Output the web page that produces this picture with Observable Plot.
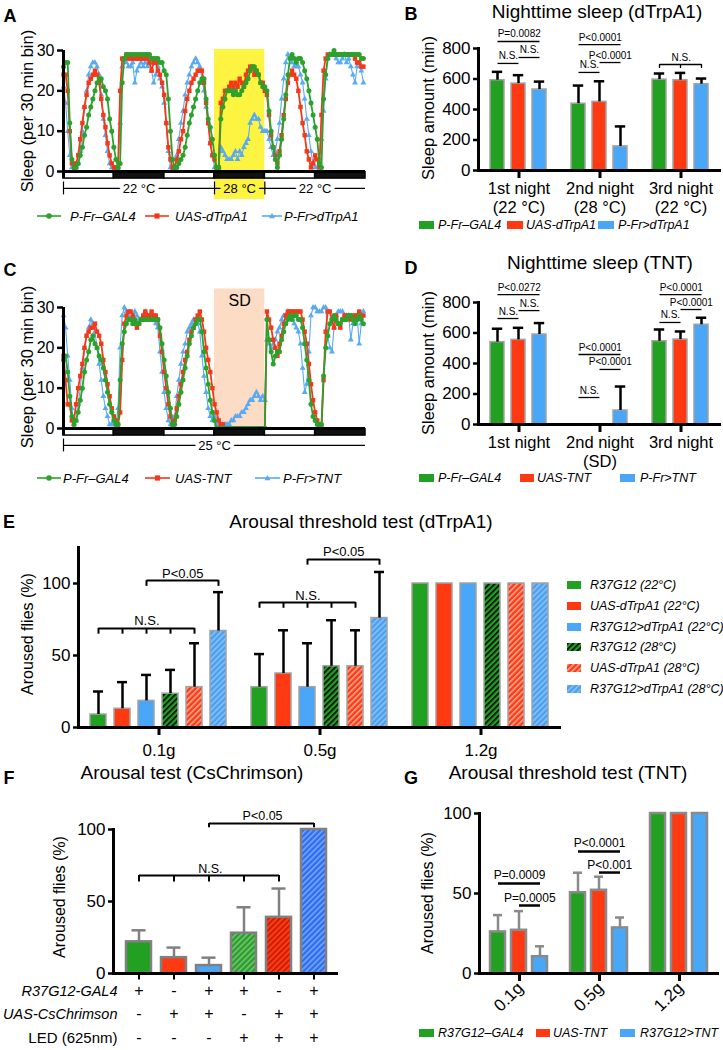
<!DOCTYPE html>
<html><head><meta charset="utf-8">
<script src="https://cdn.jsdelivr.net/npm/d3@7"></script>
<script src="https://cdn.jsdelivr.net/npm/@observablehq/plot@0.6"></script>
<style>
body{margin:0;background:#fff;}
#fig{position:relative;width:723px;height:1050px;overflow:hidden;font-family:"Liberation Sans",Arial,Helvetica,sans-serif;color:#000;background:#fff;}
#fig .abs{position:absolute;white-space:nowrap;line-height:1;}
#fig svg{position:absolute;}
</style></head>
<body>
<svg width="0" height="0" style="position:absolute">
<defs>
<pattern id="hG" patternUnits="userSpaceOnUse" width="4" height="4" patternTransform="rotate(45)"><rect width="4" height="4" fill="#22a022"/><line x1="0.8" y1="0" x2="0.8" y2="4" stroke="#000" stroke-width="1.6"/></pattern>
<pattern id="hR" patternUnits="userSpaceOnUse" width="4" height="4" patternTransform="rotate(45)"><rect width="4" height="4" fill="#ff3a12"/><line x1="0.8" y1="0" x2="0.8" y2="4" stroke="#ffc4b4" stroke-width="1.3"/></pattern>
<pattern id="hB" patternUnits="userSpaceOnUse" width="4" height="4" patternTransform="rotate(45)"><rect width="4" height="4" fill="#4a9ff0"/><line x1="0.8" y1="0" x2="0.8" y2="4" stroke="#9fcdf8" stroke-width="1.2"/></pattern>
<pattern id="fG" patternUnits="userSpaceOnUse" width="4" height="4" patternTransform="rotate(45)"><rect width="4" height="4" fill="#2a9e2a"/><line x1="0.8" y1="0" x2="0.8" y2="4" stroke="#8fd08f" stroke-width="1.2"/></pattern>
<pattern id="fR" patternUnits="userSpaceOnUse" width="4" height="4" patternTransform="rotate(45)"><rect width="4" height="4" fill="#ff3a12"/><line x1="0.8" y1="0" x2="0.8" y2="4" stroke="#a80e00" stroke-width="1.2"/></pattern>
<pattern id="fB" patternUnits="userSpaceOnUse" width="4" height="4" patternTransform="rotate(45)"><rect width="4" height="4" fill="#2d6ef0"/><line x1="0.8" y1="0" x2="0.8" y2="4" stroke="#93b8ff" stroke-width="1.2"/></pattern>
</defs></svg>
<div id="fig"></div>
<script>
// ---------------- DATA ----------------
// Panel A: sleep per 30-min bin over 3 days (144 bins), dTrpA1
const greenA = [26,27,27,12,3,0,1,2,4,6,9,11,14,16,18,20,22,23,23,21,20,18,13,10,
  6,3,1,2,22,28,29,29,29,29,29,29,29,29,29,29,29,29,28,28,28,28,27,27,
  25,24,18,10,3,1,1,2,3,4,6,9,12,14,16,18,20,22,23,23,18,13,11,8,
  4,1,1,13,16,18,20,20,20,19,20,19,19,20,21,22,23,25,26,26,25,24,22,21,
  21,20,15,10,6,3,1,4,8,13,19,24,28,29,28,27,28,28,27,25,23,20,17,14,
  11,8,2,1,18,24,28,29,29,30,29,29,29,29,29,29,29,29,29,29,29,29,28,28];
const redA = [24,24,20,10,2,1,2,4,8,12,16,19,22,23,24,25,24,22,18,14,11,7,4,2,
  1,1,1,20,28,28,29,28,28,28,28,28,28,28,28,28,28,27,25,27,27,25,24,22,
  19,12,6,3,1,1,3,5,8,10,15,18,20,22,23,24,25,25,25,22,17,12,7,4,
  3,1,1,17,18,20,20,21,22,21,22,21,23,22,21,24,25,26,26,24,25,24,22,22,
  20,19,14,9,6,4,2,5,9,14,18,22,24,25,24,23,20,16,12,9,5,3,1,2,
  4,3,1,14,25,28,29,29,29,29,29,29,29,29,29,29,29,29,29,28,27,27,26,26];
const blueA = [21,17,10,4,1,0,1,2,5,10,16,20,24,26,27,27,26,24,19,13,9,5,2,1,
  0,0,1,12,26,28,27,26,26,27,22,25,26,27,26,27,26,27,25,22,24,26,23,21,
  17,12,5,1,0,1,4,8,12,15,19,22,24,26,27,28,27,26,23,20,16,12,7,4,
  1,1,1,6,5,4,3,3,3,4,5,3,5,4,6,7,8,12,13,14,13,13,11,10,
  10,10,8,6,4,5,8,12,18,23,27,29,28,27,26,26,26,24,22,18,13,9,5,2,
  1,1,3,8,15,23,28,29,29,29,28,27,27,28,29,27,28,26,24,22,26,27,25,22];
// Panel C: TNT with sleep deprivation
const greenC = [17,18,14,8,3,1,2,4,7,10,14,17,19,22,23,21,20,18,17,15,12,9,6,4,
  2,1,1,12,21,24,26,27,27,26,27,26,26,27,27,27,27,27,27,27,27,27,25,21,
  17,13,9,5,1,1,3,6,9,12,15,18,21,23,25,26,27,27,24,19,15,11,7,4,
  2,0,0,0,0,0,0,0,0,0,0,0,0,0,0,0,0,0,0,0,0,0,0,0,
  0,27,22,19,16,18,19,19,22,24,26,27,28,27,28,28,27,27,25,21,17,12,6,3,
  2,1,1,1,13,20,23,26,27,28,27,26,26,27,27,27,28,28,27,26,27,28,27,26];
const redC = [18,12,6,6,2,2,6,10,13,16,20,23,24,25,25,26,24,23,21,17,14,11,8,5,
  3,2,1,4,17,26,28,29,29,28,26,25,26,27,28,29,28,28,29,28,28,27,23,19,
  14,10,6,3,1,2,5,8,11,14,17,19,22,24,25,27,28,29,27,24,20,17,14,10,
  6,4,2,1,1,0,0,0,0,0,0,0,0,0,0,0,0,0,0,0,0,0,0,0,
  0,29,27,25,22,20,18,21,23,26,28,29,29,29,29,29,29,29,27,24,21,16,11,7,
  4,2,1,0,12,24,29,29,27,25,28,26,25,27,28,28,28,27,28,28,28,29,28,28];
const blueC = [28,25,18,12,5,1,2,6,10,15,20,23,25,27,26,24,20,16,12,8,5,3,1,1,
  1,1,5,20,28,30,29,28,27,28,29,28,27,27,28,29,28,27,28,27,26,25,19,14,
  9,5,2,1,1,3,8,12,16,19,21,24,25,26,27,27,26,24,18,13,9,5,3,2,
  3,1,1,1,1,1,1,1,2,2,3,3,3,4,4,5,6,7,7,8,9,8,7,8,
  7,22,21,20,21,22,24,25,27,28,28,29,28,27,26,25,24,21,15,9,11,19,28,30,
  30,29,29,29,30,30,23,20,19,25,28,29,29,29,28,28,28,22,26,27,28,21,26,29];

// Panel B
const nightsB = ["1st night","2nd night","3rd night"];
const nightTicksB = ["1st night\n(22 °C)","2nd night\n(28 °C)","3rd night\n(22 °C)"];
const genotypesB = ["P-Fr–GAL4","UAS-dTrpA1","P-Fr>dTrpA1"];
const meanB_gal4 = [592,438,596], meanB_uas = [570,450,592], meanB_trp = [531,158,566];
const semB_gal4 = [55,119,40], semB_uas = [55,135,48], semB_trp = [52,131,37];
const sigB = [
  {group:"1st night", from:"P-Fr–GAL4", to:"P-Fr>dTrpA1", y:846, label:"P=0.0082"},
  {group:"1st night", from:"P-Fr–GAL4", to:"UAS-dTrpA1", y:702, label:"N.S."},
  {group:"1st night", from:"UAS-dTrpA1", to:"P-Fr>dTrpA1", y:741, label:"N.S."},
  {group:"2nd night", from:"P-Fr–GAL4", to:"P-Fr>dTrpA1", y:826, label:"P<0.0001"},
  {group:"2nd night", from:"UAS-dTrpA1", to:"P-Fr>dTrpA1", y:708, label:"P<0.0001"},
  {group:"2nd night", from:"P-Fr–GAL4", to:"UAS-dTrpA1", y:643, label:"N.S."},
  {group:"3rd night", from:"P-Fr–GAL4", to:"P-Fr>dTrpA1", y:695, label:"N.S.", ticks:["P-Fr–GAL4","UAS-dTrpA1","P-Fr>dTrpA1"], depth:26}];

// Panel D
const nightsD = ["1st night","2nd night","3rd night"];
const nightTicksD = ["1st night","2nd night\n(SD)","3rd night"];
const genotypesD = ["P-Fr–GAL4","UAS-TNT","P-Fr>TNT"];
const meanD_gal4 = [540,0,546], meanD_uas = [555,0,557], meanD_tnt = [590,92,654];
const semD_gal4 = [88,0,77], semD_uas = [79,0,53], semD_tnt = [75,157,46];
const sigD = [
  {group:"1st night", from:"P-Fr–GAL4", to:"P-Fr>TNT", y:852, label:"P<0.0272"},
  {group:"1st night", from:"P-Fr–GAL4", to:"UAS-TNT", y:695, label:"N.S."},
  {group:"1st night", from:"UAS-TNT", to:"P-Fr>TNT", y:747, label:"N.S."},
  {group:"2nd night", from:"P-Fr–GAL4", to:"P-Fr>TNT", y:459, label:"P<0.0001"},
  {group:"2nd night", from:"UAS-TNT", to:"P-Fr>TNT", y:361, label:"P<0.0001"},
  {group:"2nd night", from:"P-Fr–GAL4", to:"UAS-TNT", y:177, label:"N.S."},
  {group:"3rd night", from:"P-Fr–GAL4", to:"P-Fr>TNT", y:852, label:"P<0.0001"},
  {group:"3rd night", from:"UAS-TNT", to:"P-Fr>TNT", y:754, label:"P<0.0001"},
  {group:"3rd night", from:"P-Fr–GAL4", to:"UAS-TNT", y:669, label:"N.S."}];

// Panel E
const forcesE = ["0.1g","0.5g","1.2g"];
const groupsE = ["R37G12 (22°C)","UAS-dTrpA1 (22°C)","R37G12>dTrpA1 (22°C)","R37G12 (28°C)","UAS-dTrpA1 (28°C)","R37G12>dTrpA1 (28°C)"];
const arousedE_gal4_22 = [9,28,100],   semE_gal4_22 = [16,23,0];
const arousedE_uas_22  = [13,37.5,100], semE_uas_22  = [18.5,30,0];
const arousedE_exp_22  = [18.5,28,100], semE_exp_22  = [18,30.5,0];
const arousedE_gal4_28 = [23.5,42.5,100], semE_gal4_28 = [16.5,32,0];
const arousedE_uas_28  = [28,42.5,100], semE_uas_28  = [30.5,25,0];
const arousedE_exp_28  = [67,76,100],   semE_exp_28  = [27,32,0];
const sigE = [
  {group:"0.1g", from:groupsE[0], to:groupsE[4], y:68.8, label:"N.S.", ticks:groupsE.slice(0,5), depth:4},
  {group:"0.1g", from:groupsE[2], to:groupsE[5], y:102, label:"P<0.05", ticks:[groupsE[2],groupsE[5]], depth:4},
  {group:"0.5g", from:groupsE[0], to:groupsE[4], y:86.8, label:"N.S.", ticks:groupsE.slice(0,5), depth:4},
  {group:"0.5g", from:groupsE[2], to:groupsE[5], y:116.7, label:"P<0.05", ticks:[groupsE[2],groupsE[5]], depth:4}];

// Panel F
const condF = ["GAL4","UAS","GAL4>UAS","GAL4 LED","UAS LED","GAL4>UAS LED"];
const arousedF = [22,11,5.5,28,39,100];
const semF = [8,7,5.5,18,20,0];
const gal4F = ["+","-","+","+","-","+"];
const uasF  = ["-","+","+","-","+","+"];
const ledF  = ["-","-","-","+","+","+"];
const sigF = [
  {group:"F", from:condF[0], to:condF[4], y:68, label:"N.S.", ticks:condF.slice(0,5), depth:4.5},
  {group:"F", from:condF[2], to:condF[5], y:104.2, label:"P<0.05", ticks:[condF[2],condF[5]], depth:3}];

// Panel G
const forcesG = ["0.1g","0.5g","1.2g"];
const genotypesG = ["R37G12–GAL4","UAS-TNT","R37G12>TNT"];
const arousedG_gal4 = [26,50.5,100], semG_gal4 = [10.5,12.5,0];
const arousedG_uas  = [27,52,100],   semG_uas  = [12,8.5,0];
const arousedG_tnt  = [10.5,28.5,100], semG_tnt = [6.5,6.5,0];
const sigG = [
  {group:"0.1g", from:genotypesG[0], to:genotypesG[2], y:56.3, label:"P=0.0009"},
  {group:"0.1g", from:genotypesG[1], to:genotypesG[2], y:42.5, label:"P=0.0005"},
  {group:"0.5g", from:genotypesG[0], to:genotypesG[2], y:76.3, label:"P<0.0001"},
  {group:"0.5g", from:genotypesG[1], to:genotypesG[2], y:63.1, label:"P<0.001"}];

// ---------------- HELPERS ----------------
const FONT = '"Liberation Sans", Arial, Helvetica, sans-serif';
const GREEN = "#22a022", RED = "#ff3a12", BLUE = "#4aa6f7";
const LGREEN = "#2ba22b", LRED = "#f5381a", LBLUE = "#58abf3";
const fig = document.getElementById("fig");
const style = {fontFamily: FONT, fontSize: "16px", background: "transparent", overflow: "visible", color: "black"};

function put(node, left, top) {
  node.style.left = left + "px"; node.style.top = top + "px";
  fig.appendChild(node);
  return node;
}
function txt(text, x, y, css, mode = "center") {
  const d = document.createElement("div");
  d.className = "abs";
  d.textContent = text;
  d.style.cssText += css;
  if (mode === "center") d.style.transform = "translate(-50%,-50%)";
  else if (mode === "left") d.style.transform = "translate(0,-50%)";
  else if (mode === "vert") d.style.transform = "translate(-50%,-50%) rotate(-90deg)";
  return put(d, x, y);
}
function swatch(x, y, w, h, fill) {
  const d = document.createElement("div");
  d.className = "abs";
  d.innerHTML = `<svg width="${w}" height="${h}" style="position:static;display:block"><rect width="${w}" height="${h}" fill="${fill}"/></svg>`;
  return put(d, x, y - h / 2);
}
function lineKey(x1, x2, y, color, symbol) {
  const w = x2 - x1, c = w / 2, d = document.createElement("div");
  d.className = "abs";
  let m;
  if (symbol === "circle") m = `<circle cx="${c}" cy="5" r="2.8" fill="${color}"/>`;
  else if (symbol === "square") m = `<rect x="${c - 2.6}" y="2.4" width="5.2" height="5.2" fill="${color}"/>`;
  else m = `<path d="M${c},2 L${c + 3},7.2 L${c - 3},7.2Z" fill="${color}"/>`;
  d.innerHTML = `<svg width="${w}" height="10" style="position:static;display:block"><line x1="0" x2="${w}" y1="5" y2="5" stroke="${color}" stroke-width="1.6"/>${m}</svg>`;
  return put(d, x1, y - 5);
}

// ---------------- LINE PANELS (A, C) ----------------
const bins = d3.range(144);
const phases = d3.range(6).map(k => ({from: 24 * k, to: 24 * (k + 1), dark: k % 2 === 1}));

function linePanel({top, series, shade, temps, sdText}) {
  const marks = [];
  if (shade) marks.push(Plot.rect([shade], {x1: "from", x2: "to", y1: shade.y1, y2: shade.y2, fill: shade.color}));
  for (const s of series) {
    const rows = bins.map(i => ({bin: i, sleep: s.values[i]}));
    marks.push(Plot.line(rows, {x: "bin", y: "sleep", stroke: s.color, strokeWidth: s.sw}));
    marks.push(Plot.dot(rows, {x: "bin", y: "sleep", symbol: s.symbol, r: s.r, fill: s.color}));
  }
  marks.push(
    Plot.rect(phases.filter(p => !p.dark), {x1: "from", x2: "to", y1: -0.15, y2: -1.75, fill: "white", stroke: "black", strokeWidth: 1.5}),
    Plot.rect(phases.filter(p => p.dark), {x1: "from", x2: "to", y1: -0.15, y2: -1.75, fill: "#111", stroke: "black", strokeWidth: 1.5}),
    Plot.ruleY([0], {strokeWidth: 3}),
    Plot.ruleX([0], {y1: -1.75, y2: 30, strokeWidth: 3}),
    Plot.axisY({ticks: [0, 10, 20, 30], tickSize: 6, tickPadding: 3, strokeWidth: 2.5, fontSize: 16, label: null}),
    Plot.ruleY(temps, {x1: "from", x2: "to", y: -4.2, strokeWidth: 1.2}),
    Plot.ruleX(temps, {x: "from", y1: -2.6, y2: -5.8, strokeWidth: 1.2}),
    ...temps.map(t => Plot.text([t], {x: d => (d.from + d.to) / 2, y: -4.2, text: "label", fontSize: 13, fill: "black",
      stroke: t.bg, strokeWidth: 8, paintOrder: "stroke"}))
  );
  if (sdText) marks.push(Plot.text([sdText], {x: 84, y: 31.7, text: d => d, fontSize: 16}));
  const p = Plot.plot({
    width: 370, height: 235, marginLeft: 63, marginRight: 5, marginTop: 50, marginBottom: 64,
    x: {domain: [0, 144], axis: null},
    y: {domain: [0, 30]},
    style, marks
  });
  return put(p, 0, top);
}

linePanel({
  top: 0,
  shade: {from: 72, to: 96, y1: -6.94, y2: 30.25, color: "#fdf341"},
  series: [
    {values: blueA, color: LBLUE, symbol: "triangle", r: 2.2, sw: 1.1},
    {values: redA, color: LRED, symbol: "square", r: 2.5, sw: 1.8},
    {values: greenA, color: LGREEN, symbol: "circle", r: 2.5, sw: 1.8}],
  temps: [{from: 0, to: 72, label: "22 °C", bg: "white"}, {from: 72, to: 96, label: "28 °C", bg: "#fdf341"}, {from: 96, to: 144, label: "22 °C", bg: "white"}]
});
linePanel({
  top: 257,
  shade: {from: 72, to: 96, y1: 0, y2: 34.6, color: "#fcdcc5"},
  series: [
    {values: blueC, color: LBLUE, symbol: "triangle", r: 2.2, sw: 1.1},
    {values: redC, color: LRED, symbol: "square", r: 2.5, sw: 1.8},
    {values: greenC, color: LGREEN, symbol: "circle", r: 2.5, sw: 1.8}],
  temps: [{from: 0, to: 144, label: "25 °C", bg: "white"}],
  sdText: "SD"
});

// ---------------- BAR PANELS ----------------
function barPanel(cfg) {
  const {left, top, width, height, mL, mR, mT, mB, groups, groupLabels, series, fills, rows, yDomain, yTicks,
    pIn, pOut, barStroke, barSW, errStroke, capInset, brackets, bracketSW, bracketFont, bracketDy, yFont, xFont,
    xPad = 2, tickRotate, showFx = true, extra = []} = cfg;
  const facetW = (width - mL - mR) / groups.length;
  const step = facetW / (series.length - pIn + 2 * pOut);
  const withErr = rows.filter(d => d.err > 0);
  const bTicks = brackets.flatMap(b => (b.ticks || []).map(k => ({group: b.group, key: k, y: b.y, y2: b.y - b.depth})));
  const marks = [
    Plot.barY(rows.filter(d => d.value > 0), {fx: "group", x: "series", y: "value", fill: "series", stroke: barStroke, strokeWidth: barSW}),
    Plot.ruleX(withErr, {fx: "group", x: "series", y1: "value", y2: d => d.value + d.err, stroke: errStroke, strokeWidth: 2.5}),
    Plot.tickY(withErr, {fx: "group", x: "series", y: d => d.value + d.err, stroke: errStroke, strokeWidth: 2.5, insetLeft: capInset, insetRight: capInset}),
    Plot.ruleY([0], {strokeWidth: 3}),
    Plot.frame({anchor: "left", facetAnchor: "left", strokeWidth: 3}),
    Plot.axisY({ticks: yTicks, tickSize: 5, tickPadding: 3, strokeWidth: 2.5, fontSize: yFont, label: null}),
    Plot.link(brackets, {fx: "group", x1: "from", x2: "to", y1: "y", y2: "y", strokeWidth: bracketSW}),
    Plot.ruleX(bTicks, {fx: "group", x: "key", y1: "y", y2: "y2", strokeWidth: bracketSW}),
    ...brackets.map(b => Plot.text([b], {fx: "group", x: "from", y: "y", text: "label",
      dx: (series.indexOf(b.to) - series.indexOf(b.from)) * step / 2, dy: bracketDy, lineAnchor: "bottom", fontSize: bracketFont})),
    ...extra
  ];
  if (showFx) marks.push(Plot.axisFx({anchor: "bottom", tickSize: 8, tickPadding: xPad, strokeWidth: 3, fontSize: xFont,
    label: null, lineHeight: 1.2, tickRotate, tickFormat: d => groupLabels[groups.indexOf(d)]}));
  const p = Plot.plot({
    width, height, marginLeft: mL, marginRight: mR, marginTop: mT, marginBottom: mB,
    fx: {domain: groups, padding: 0, label: null, ...(showFx ? {} : {axis: null})},
    x: {domain: series, paddingInner: pIn, paddingOuter: pOut, axis: null},
    y: {domain: yDomain},
    color: {domain: series, range: fills},
    style, marks
  });
  return put(p, left, top);
}
function tidy(groups, series, means, sems) {
  const out = [];
  series.forEach((s, si) => groups.forEach((g, gi) => out.push({group: g, series: s, value: means[si][gi], err: sems[si][gi]})));
  return out;
}

// B
barPanel({left: 360, top: 0, width: 363, height: 245, mL: 118, mR: 2, mT: 48, mB: 75,
  groups: nightsB, groupLabels: nightTicksB, series: genotypesB, fills: [GREEN, RED, BLUE],
  rows: tidy(nightsB, genotypesB, [meanB_gal4, meanB_uas, meanB_trp], [semB_gal4, semB_uas, semB_trp]),
  yDomain: [0, 800], yTicks: [0, 200, 400, 600, 800], pIn: 0.33, pOut: 0.53,
  barStroke: "#a3a3a3", barSW: 1.5, errStroke: "black", capInset: 1.8,
  brackets: sigB, bracketSW: 1.3, bracketFont: 10, bracketDy: -4, yFont: 17, xFont: 16.5, xPad: 1});
// D
barPanel({left: 360, top: 254, width: 363, height: 245, mL: 118, mR: 2, mT: 48, mB: 75,
  groups: nightsD, groupLabels: nightTicksD, series: genotypesD, fills: [GREEN, RED, BLUE],
  rows: tidy(nightsD, genotypesD, [meanD_gal4, meanD_uas, meanD_tnt], [semD_gal4, semD_uas, semD_tnt]),
  yDomain: [0, 800], yTicks: [0, 200, 400, 600, 800], pIn: 0.33, pOut: 0.53,
  barStroke: "#a3a3a3", barSW: 1.5, errStroke: "black", capInset: 1.8,
  brackets: sigD, bracketSW: 1.3, bracketFont: 10, bracketDy: -4, yFont: 17, xFont: 16.5, xPad: 1});
// E
barPanel({left: 0, top: 500, width: 565, height: 270, mL: 77, mR: 3.5, mT: 47, mB: 43,
  groups: forcesE, groupLabels: forcesE, series: groupsE,
  fills: [GREEN, RED, BLUE, "url(#hG)", "url(#hR)", "url(#hB)"],
  rows: tidy(forcesE, groupsE, [arousedE_gal4_22, arousedE_uas_22, arousedE_exp_22, arousedE_gal4_28, arousedE_uas_28, arousedE_exp_28],
    [semE_gal4_22, semE_uas_22, semE_exp_22, semE_gal4_28, semE_uas_28, semE_exp_28]),
  yDomain: [0, 125], yTicks: [0, 50, 100], pIn: 0.32, pOut: 0.5,
  barStroke: "#a3a3a3", barSW: 1.5, errStroke: "black", capInset: 3,
  brackets: sigE, bracketSW: 2, bracketFont: 13, bracketDy: -3, yFont: 17, xFont: 17, xPad: 6});
// F
const rowY = [22, 45, 69];
barPanel({left: 0, top: 790, width: 345, height: 270, mL: 113, mR: 7, mT: 39, mB: 87,
  groups: ["F"], groupLabels: [""], series: condF,
  fills: [GREEN, RED, BLUE, "url(#fG)", "url(#fR)", "url(#fB)"],
  rows: condF.map((c, i) => ({group: "F", series: c, value: arousedF[i], err: semF[i]})),
  yDomain: [0, 100], yTicks: [0, 50, 100], pIn: 0.3, pOut: 0.3,
  barStroke: "#808080", barSW: 2.5, errStroke: "#808080", capInset: 5.5,
  brackets: sigF, bracketSW: 2, bracketFont: 12.5, bracketDy: -3, yFont: 17, xFont: 16, showFx: false,
  extra: [
    Plot.ruleX(condF, {x: d => d, y1: 0, y2: -4.5, strokeWidth: 2}),
    ...[gal4F, uasF, ledF].map((row, r) => Plot.text(condF, {x: d => d, text: (d, i) => row[i], frameAnchor: "bottom", dy: rowY[r], fontSize: 16})),
    ...["R37G12-GAL4", "UAS-CsChrimson", "LED (625nm)"].map((lab, r) => Plot.text([lab], {text: d => d, frameAnchor: "bottom-left",
      dx: 4, dy: rowY[r], textAnchor: "end", fontSize: r < 2 ? 14.5 : 15, fontStyle: r < 2 ? "italic" : "normal"}))
  ]});
// G
barPanel({left: 360, top: 790, width: 363, height: 240, mL: 118, mR: 3.5, mT: 23, mB: 57,
  groups: forcesG, groupLabels: forcesG, series: genotypesG, fills: [GREEN, RED, BLUE],
  rows: tidy(forcesG, genotypesG, [arousedG_gal4, arousedG_uas, arousedG_tnt], [semG_gal4, semG_uas, semG_tnt]),
  yDomain: [0, 100], yTicks: [0, 50, 100], pIn: 0.28, pOut: 0.51,
  barStroke: "#8a8a8a", barSW: 2.5, errStroke: "#8a8a8a", capInset: 3,
  brackets: sigG, bracketSW: 2.5, bracketFont: 12, bracketDy: -4, yFont: 17, xFont: 17, xPad: 3, tickRotate: -45});

// ---------------- TEXT: letters, titles, axis titles, legends ----------------
const L = "font-weight:bold;font-size:18px;";
txt("A", 10, 16, L); txt("B", 411, 14, L); txt("C", 10, 270, L); txt("D", 411, 268, L);
txt("E", 9, 522, L); txt("F", 9, 778, L); txt("G", 411, 778, L);
const T = "font-size:19px;";
txt("Nighttime sleep (dTrpA1)", 597, 11, T);
txt("Nighttime sleep (TNT)", 600, 262, T);
txt("Arousal threshold test (dTrpA1)", 361, 521, T);
txt("Arousal test (CsChrimson)", 192, 772, T);
txt("Arousal threshold test (TNT)", 568, 772, T);
const Y = "font-size:16.5px;";
txt("Sleep (per 30 min bin)", 27, 111, Y, "vert");
txt("Sleep (per 30 min bin)", 27, 367, Y, "vert");
txt("Sleep amount (min)", 428, 108, Y, "vert");
txt("Sleep amount (min)", 428, 363, Y, "vert");
txt("Aroused flies (%)", 28, 634, "font-size:16px;", "vert");
txt("Aroused flies (%)", 60, 897, "font-size:16px;", "vert");
txt("Aroused flies (%)", 428, 893, "font-size:16px;", "vert");

const LG = "font-style:italic;font-size:13px;";
// A legend
lineKey(37, 61, 216, LGREEN, "circle"); txt(genotypesB[0], 70, 216, LG, "left");
lineKey(145, 169, 216, LRED, "square"); txt(genotypesB[1], 175, 216, LG, "left");
lineKey(262, 282, 216, LBLUE, "triangle"); txt(genotypesB[2], 284, 216, LG, "left");
// C legend
lineKey(37, 61, 478, LGREEN, "circle"); txt(genotypesD[0], 63, 478, LG, "left");
lineKey(145, 170, 478, LRED, "square"); txt(genotypesD[1], 175, 478, LG, "left");
lineKey(255, 280, 478, LBLUE, "triangle"); txt(genotypesD[2], 283, 478, LG, "left");
// B legend
const LB = "font-style:italic;font-size:12.5px;";
swatch(419, 225, 15, 8, GREEN); txt(genotypesB[0], 438, 225, LB, "left");
swatch(507, 225, 16, 8, RED); txt(genotypesB[1], 526, 225, LB, "left");
swatch(598, 225, 16, 8, BLUE); txt(genotypesB[2], 618, 225, LB, "left");
// D legend
swatch(419, 478, 15, 8, GREEN); txt(genotypesD[0], 438, 478, LB, "left");
swatch(520, 478, 14, 8, RED); txt(genotypesD[1], 537, 478, LB, "left");
swatch(620, 478, 15, 8, BLUE); txt(genotypesD[2], 640, 478, LB, "left");
// E legend
const eFills = [GREEN, RED, BLUE, "url(#hG)", "url(#hR)", "url(#hB)"];
groupsE.forEach((g, i) => {
  const y = 585 + i * 20.8;
  swatch(567, y, 14, 8, eFills[i]);
  txt(g, 590, y, "font-style:italic;font-size:12.5px;", "left");
});
// G legend
swatch(419, 1033, 15, 8, GREEN); txt(genotypesG[0], 438, 1033, LB, "left");
swatch(536, 1033, 14, 8, RED); txt(genotypesG[1], 553, 1033, LB, "left");
swatch(620, 1033, 15, 8, BLUE); txt(genotypesG[2], 640, 1033, LB, "left");
</script>
</body></html>
